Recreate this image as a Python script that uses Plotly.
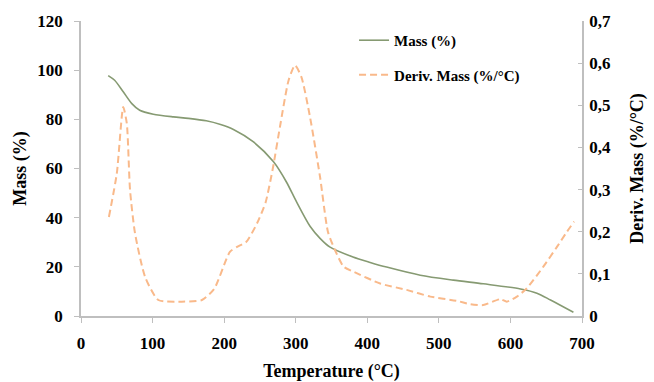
import plotly.graph_objects as go

# Mass (%) curve
mass_T = [38, 47, 59, 71, 82, 101, 129, 150, 175, 195, 213, 241, 269, 287, 301, 320, 334, 348,
          380, 404, 427, 474, 520, 562, 614, 637, 656, 688]
mass_V = [97.8, 95.9, 91.2, 86.4, 83.7, 82.1, 81.0, 80.4, 79.4, 77.9, 75.9, 70.8, 62.7, 54.5, 46.5,
          36.5, 31.6, 28.0, 24.0, 21.8, 19.9, 16.6, 14.6, 13.1, 11.0, 9.3, 6.5, 1.5]

# Deriv. Mass (%/°C) curve
der_T = [39, 50, 59, 64, 68.5, 75.5, 89.5, 108, 141, 169, 186, 208, 218, 231, 246, 258, 268,
         278, 290, 299, 308, 320, 334, 345, 355, 367, 381, 418, 455, 488, 525, 544, 562, 586,
         595, 609, 623, 646, 665, 679, 689]
der_V = [0.235, 0.338, 0.496, 0.457, 0.299, 0.196, 0.093, 0.038, 0.034, 0.038, 0.064, 0.152,
         0.164, 0.176, 0.22, 0.27, 0.35, 0.449, 0.559, 0.595, 0.567, 0.472, 0.33, 0.2, 0.156,
         0.117, 0.105, 0.077, 0.062, 0.046, 0.036, 0.028, 0.026, 0.040, 0.034, 0.046, 0.066,
         0.117, 0.164, 0.2, 0.224]

x_ticks = [0, 100, 200, 300, 400, 500, 600, 700]
y_ticks = [0, 20, 40, 60, 80, 100, 120]
y2_ticks = [0, 0.1, 0.2, 0.3, 0.4, 0.5, 0.6, 0.7]
y2_labels = ["0", "0,1", "0,2", "0,3", "0,4", "0,5", "0,6", "0,7"]

FONT = "Liberation Serif"
AX = "#bfbfbf"

fig = go.Figure()
fig.add_trace(go.Scatter(x=mass_T, y=mass_V, mode="lines", name="Mass (%)",
                         line=dict(color="#869a72", width=1.6, shape="spline", smoothing=0.8),
                         legendgroup="a"))
fig.add_trace(go.Scatter(x=der_T, y=der_V, mode="lines", name="Deriv. Mass (%/°C)", yaxis="y2",
                         line=dict(color="#f9b98a", width=2, dash="7px,4px", shape="spline", smoothing=0.6),
                         legendgroup="b"))

tickfont = dict(family=FONT, size=17, color="black", weight="bold")
titlefont = dict(family=FONT, size=18, color="black", weight="bold")

fig.update_layout(
    width=654, height=382,
    margin=dict(l=81, r=72, t=21, b=66),
    paper_bgcolor="white", plot_bgcolor="white",
    showlegend=True,
    legend=dict(x=0.545, y=0.99, xanchor="left", yanchor="top", bgcolor="rgba(0,0,0,0)",
                font=dict(family=FONT, size=15, color="black", weight="bold"),
                traceorder="grouped", tracegroupgap=12),
    xaxis=dict(range=[0, 700], tickvals=x_ticks, showgrid=False, zeroline=False, automargin=False,
               showline=True, linecolor=AX, linewidth=1.5, ticks="outside", tickcolor=AX,
               ticklen=5, tickfont=tickfont, ticklabelstandoff=6,
               title=dict(text="Temperature (°C)", font=titlefont, standoff=14)),
    yaxis=dict(range=[0, 120], tickvals=y_ticks, showgrid=False, zeroline=False, automargin=False,
               showline=True, linecolor=AX, linewidth=1.5, ticks="outside", tickcolor=AX,
               ticklen=5, tickfont=tickfont, ticklabelstandoff=8,
               title=dict(text="Mass (%)", font=titlefont, standoff=6)),
    yaxis2=dict(range=[0, 0.7], tickvals=y2_ticks, ticktext=y2_labels, overlaying="y", side="right",
                showgrid=False, zeroline=False, showline=True, linecolor=AX, linewidth=1.5,
                automargin=False,
                ticks="inside", tickcolor=AX, ticklen=4, tickfont=tickfont, ticklabelstandoff=2,
                title=dict(text="Deriv. Mass (%/°C)", font=titlefont, standoff=20)),
)

fig.write_html("out.html")
